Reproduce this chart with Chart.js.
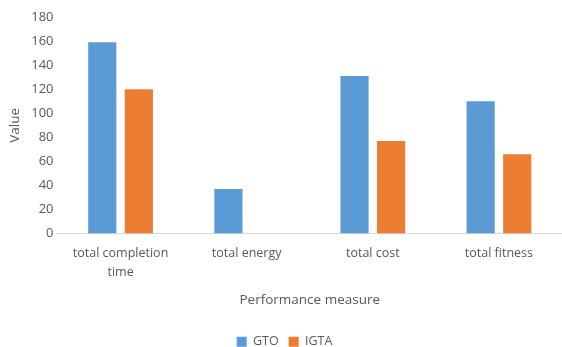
<!DOCTYPE html>
<html>
<head>
<meta charset="utf-8">
<script src="https://cdn.jsdelivr.net/npm/chart.js@4/dist/chart.umd.min.js"></script>
<style>
  html, body { margin: 0; padding: 0; background: #fff; }
  #wrap { width: 562px; height: 347px; }
</style>
</head>
<body>
<div id="wrap"><canvas id="c" width="562" height="347"></canvas></div>
<script>
// Performance measures compared between the two algorithms
const categories = [['total completion', 'time'], 'total energy', 'total cost', 'total fitness'];
const gtoValues = [159, 37, 131, 110];
const igtaValues = [120, 0, 77, 66];
const yTicks = { min: 0, max: 180, step: 20 };

const textColor = '#595959';
const family = "'Open Sans', 'Liberation Sans', sans-serif";

new Chart(document.getElementById('c'), {
  type: 'bar',
  data: {
    labels: categories,
    datasets: [
      { label: 'GTO', data: gtoValues, backgroundColor: '#5B9BD5' },
      { label: 'IGTA', data: igtaValues, backgroundColor: '#ED7D31' }
    ]
  },
  options: {
    responsive: false,
    animation: false,
    devicePixelRatio: 1,
    categoryPercentage: 0.58,
    barPercentage: 0.77,
    layout: { padding: { left: 7, right: 0, top: 17, bottom: -11 } },
    plugins: {
      legend: {
        position: 'bottom',
        labels: {
          boxWidth: 10, boxHeight: 10, padding: 10,
          color: textColor, font: { family: family, size: 12.5 }
        }
      },
      tooltip: { enabled: false }
    },
    scales: {
      x: {
        grid: { display: false, tickLength: 0 },
        border: { color: '#d9d9d9', width: 1 },
        ticks: {
          color: textColor, font: { family: family, size: 12.5, lineHeight: 1.55 },
          padding: 10, maxRotation: 0
        },
        title: {
          display: true, text: 'Performance measure',
          color: textColor, font: { family: family, size: 13.5 },
          padding: { top: 0, bottom: 17 }
        }
      },
      y: {
        min: yTicks.min, max: yTicks.max,
        grid: { display: false, tickLength: 0 },
        border: { display: false },
        ticks: { stepSize: yTicks.step, color: textColor, font: { family: family, size: 13 }, padding: 4 },
        title: {
          display: true, text: 'Value',
          color: textColor, font: { family: family, size: 13.5 },
          padding: { top: 0, bottom: 4 }
        }
      }
    }
  }
});
</script>
</body>
</html>
